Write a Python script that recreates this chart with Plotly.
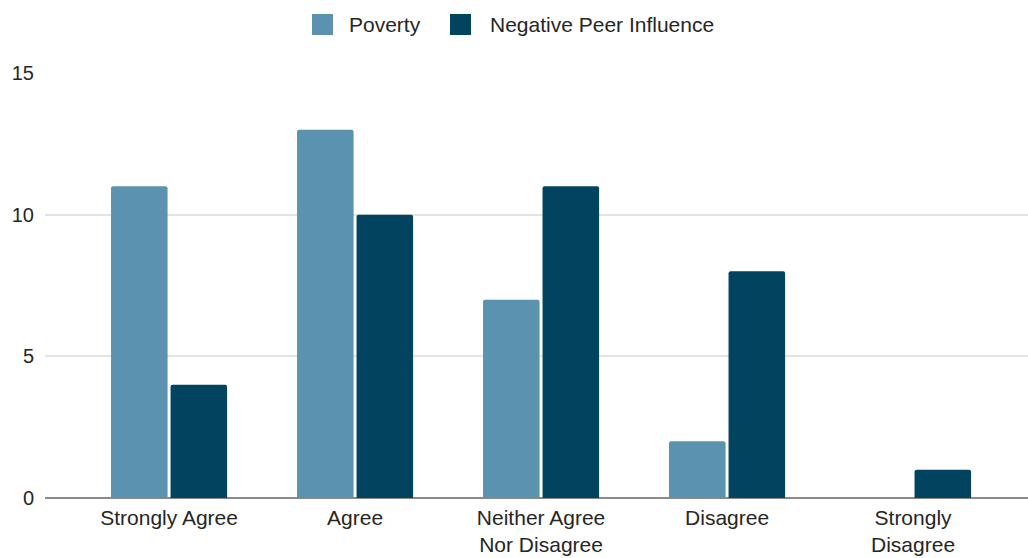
import plotly.graph_objects as go

# Survey responses by factor
categories = ["Strongly Agree", "Agree", "Neither Agree<br>Nor Disagree", "Disagree", "Strongly<br>Disagree"]
poverty = [11, 13, 7, 2, 0]
peer_influence = [4, 10, 11, 8, 1]
series_names = ["Poverty", "Negative Peer Influence"]
series_colors = ["#5a92b0", "#02435f"]
y_ticks = [0, 5, 10, 15]

W, H = 1028, 558
L, R, T, B = 45, 0, 73, 60
FONT = "Liberation Sans, Arial, sans-serif"
TEXT = "#262626"

fig = go.Figure()
for name, vals, col in zip(series_names, [poverty, peer_influence], series_colors):
    fig.add_trace(go.Bar(x=list(range(len(categories))), y=vals, name=name,
                         marker=dict(color=col, line=dict(width=0)),
                         showlegend=False))

# custom legend: larger swatches than the built-in legend allows
pw, ph = W - L - R, H - T - B
def px(x):
    return (x - L) / pw
def py(y):
    return (H - B - y) / ph

legend_items = [(312, 347), (450, 488)]
for (sx, tx), name, col in zip(legend_items, series_names, series_colors):
    fig.add_shape(type="rect", xref="paper", yref="paper",
                  x0=px(sx), x1=px(sx + 21), y0=py(14), y1=py(35),
                  fillcolor=col, line=dict(width=0))
    fig.add_annotation(xref="paper", yref="paper", x=px(tx), y=py(24),
                       text=name, showarrow=False, xanchor="left", yanchor="middle",
                       font=dict(family=FONT, size=21, color=TEXT))

fig.update_layout(
    width=W, height=H,
    margin=dict(l=L, r=R, t=T, b=B),
    paper_bgcolor="white", plot_bgcolor="white",
    barmode="group", bargap=0.36, bargroupgap=0.05, barcornerradius=2,
    font=dict(family=FONT, size=20, color=TEXT),
    xaxis=dict(tickmode="array", tickvals=list(range(len(categories))), ticktext=categories,
               range=[-0.667, 4.618], showgrid=False, zeroline=False, automargin=False,
               showline=False, ticks="", fixedrange=True, ticklabelstandoff=5,
               tickfont=dict(family=FONT, size=21, color=TEXT)),
    yaxis=dict(range=[0, 15], tickvals=y_ticks, showgrid=True, gridcolor="#e3e3e3", gridwidth=1.5,
               zeroline=True, zerolinecolor="#8a8a8a", zerolinewidth=1.5, automargin=False,
               showline=False, ticks="", ticklabelstandoff=10,
               tickfont=dict(family=FONT, size=20, color=TEXT)),
)

fig.write_html("out.html")
